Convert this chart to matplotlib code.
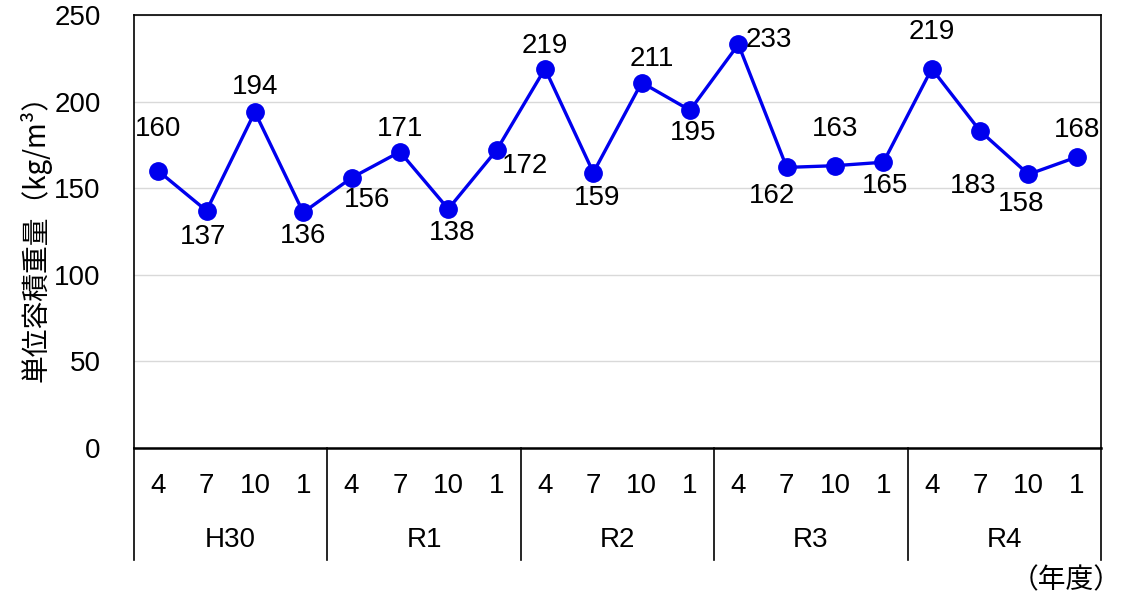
import matplotlib
matplotlib.use("Agg")
import matplotlib.pyplot as plt
import matplotlib.transforms as mtransforms

plt.rcParams['font.family'] = ['Liberation Sans', 'Noto Sans CJK JP', 'DejaVu Sans']

# -----------------------------
# data
# -----------------------------
years = ["H30", "R1", "R2", "R3", "R4"]
months = ["4", "7", "10", "1"]
values = [160, 137, 194, 136,
          156, 171, 138, 172,
          219, 159, 211, 195,
          233, 162, 163, 165,
          219, 183, 158, 168]

# label offsets in pixels (dx, dy)
label_offsets = [(0, 42), (-3, -26), (0, 25), (0, -24),
                 (15, -22), (0, 23), (4, -24), (28, -16),
                 (0, 23), (4, -25), (10, 24), (3, -23),
                 (30, 4), (-15, -29), (0, 37), (2, -24),
                 (0, 37), (-7, -55), (-7, -30), (0, 27)]

fs = 20
blue = "#0000ee"
cjk = ['Noto Sans CJK JP', 'DejaVu Sans']

fig = plt.figure(figsize=(11.22, 6), dpi=100)
ax = fig.add_axes([134 / 1122, 1 - 448 / 600, (1101 - 134) / 1122, (448 - 15) / 600])

x = list(range(len(values)))
ax.plot(x, values, color=blue, linewidth=2.4, marker="o", markersize=12.5, zorder=3)

for xi, v, (dx, dy) in zip(x, values, label_offsets):
    ax.annotate(str(v), (xi, v), xytext=(dx, dy), textcoords="offset pixels",
                ha="center", va="center", fontsize=fs)

ax.set_xlim(-0.5, len(values) - 0.5)
ax.set_ylim(0, 250)
ax.set_yticks([0, 50, 100, 150, 200, 250])
ax.tick_params(axis="y", length=0, pad=24, labelsize=fs)
ax.yaxis.grid(True, color="#d9d9d9", linewidth=1)
ax.set_axisbelow(True)

ax.set_xticks(x)
ax.set_xticklabels(months * len(years))
ax.tick_params(axis="x", length=0, pad=18, labelsize=fs)

for s in ax.spines.values():
    s.set_color("black")
    s.set_linewidth(1.2)
ax.spines["bottom"].set_linewidth(1.8)

# category table below the axis
trans = mtransforms.blended_transform_factory(ax.transData, ax.transAxes)
depth = -(560 - 448) / 433
for g in range(len(years) + 1):
    xb = g * len(months) - 0.5
    ax.plot([xb, xb], [0, depth], color="black", linewidth=1.2,
            transform=trans, clip_on=False)
for g, yr in enumerate(years):
    xc = g * len(months) + (len(months) - 1) / 2
    ax.text(xc, -(540 - 448) / 433, yr, transform=trans,
            ha="center", va="center", fontsize=fs)

ax.set_ylabel("単位容積重量（kg/m³）", fontsize=20, labelpad=2, family=cjk)
fig.text(1066 / 1122, 1 - 580 / 600, "（年度）", ha="center", va="center",
         fontsize=20, family=cjk)

fig.savefig("out.png", dpi=100)
